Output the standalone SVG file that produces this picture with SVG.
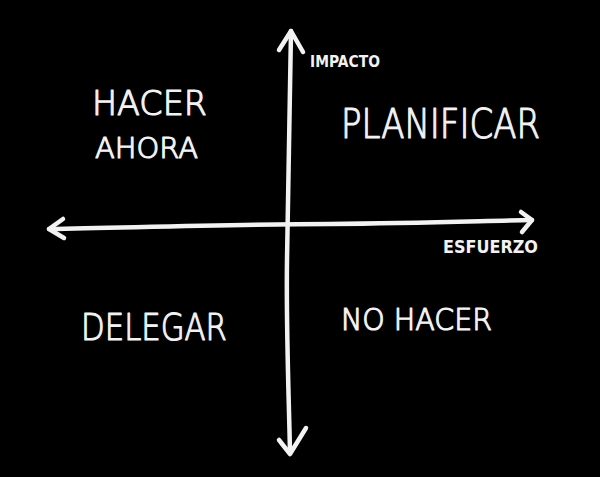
<svg xmlns="http://www.w3.org/2000/svg" width="600" height="477" viewBox="0 0 600 477">
<style>
.ax{fill:none;stroke:#f2f2f2;stroke-width:4.5;stroke-linecap:round;stroke-linejoin:round}
.t{fill:#f2f2f2;stroke:#f2f2f2;stroke-width:1.2;stroke-linejoin:round;font-family:"DejaVu Sans","Liberation Sans",sans-serif;font-weight:200}
.s{fill:#f2f2f2;font-family:"DejaVu Sans","Liberation Sans",sans-serif;font-weight:bold}
</style>
<rect width="600" height="477" fill="#000"/>
<g id="connectors">
<path class="ax" d="M291,31 C290,120 288,200 287,260 C286,330 289,400 290,453"/>
<path class="ax" d="M279,50 L291,31 L303,52"/>
<path class="ax" d="M279,440 L290,454 L306,428"/>
<path class="ax" d="M49,229 C150,227 250,224 330,224 C420,223 480,221 532,220"/>
<path class="ax" d="M63,219 L49,229 L64,238"/>
<path class="ax" d="M521,212 L532,220 L522,232"/>
</g>
<g id="impacto"><text class="s" x="310" y="67" font-size="15" textLength="70" lengthAdjust="spacingAndGlyphs">IMPACTO</text></g>
<g id="esfuerzo"><text class="s" x="443" y="253" font-size="17" textLength="95" lengthAdjust="spacingAndGlyphs">ESFUERZO</text></g>
<g id="hacer-ahora">
<text class="t" x="92" y="115" font-size="34" textLength="115" lengthAdjust="spacingAndGlyphs">HACER</text>
<text class="t" x="95" y="158" font-size="29" textLength="103" lengthAdjust="spacingAndGlyphs">AHORA</text>
</g>
<g id="planificar"><text class="t" x="341" y="138" font-size="41" textLength="199" lengthAdjust="spacingAndGlyphs">PLANIFICAR</text></g>
<g id="delegar"><text class="t" x="81" y="340" font-size="37" textLength="146" lengthAdjust="spacingAndGlyphs">DELEGAR</text></g>
<g id="no-hacer"><text class="t" x="341" y="330" font-size="31" textLength="151" lengthAdjust="spacingAndGlyphs">NO HACER</text></g>
</svg>
